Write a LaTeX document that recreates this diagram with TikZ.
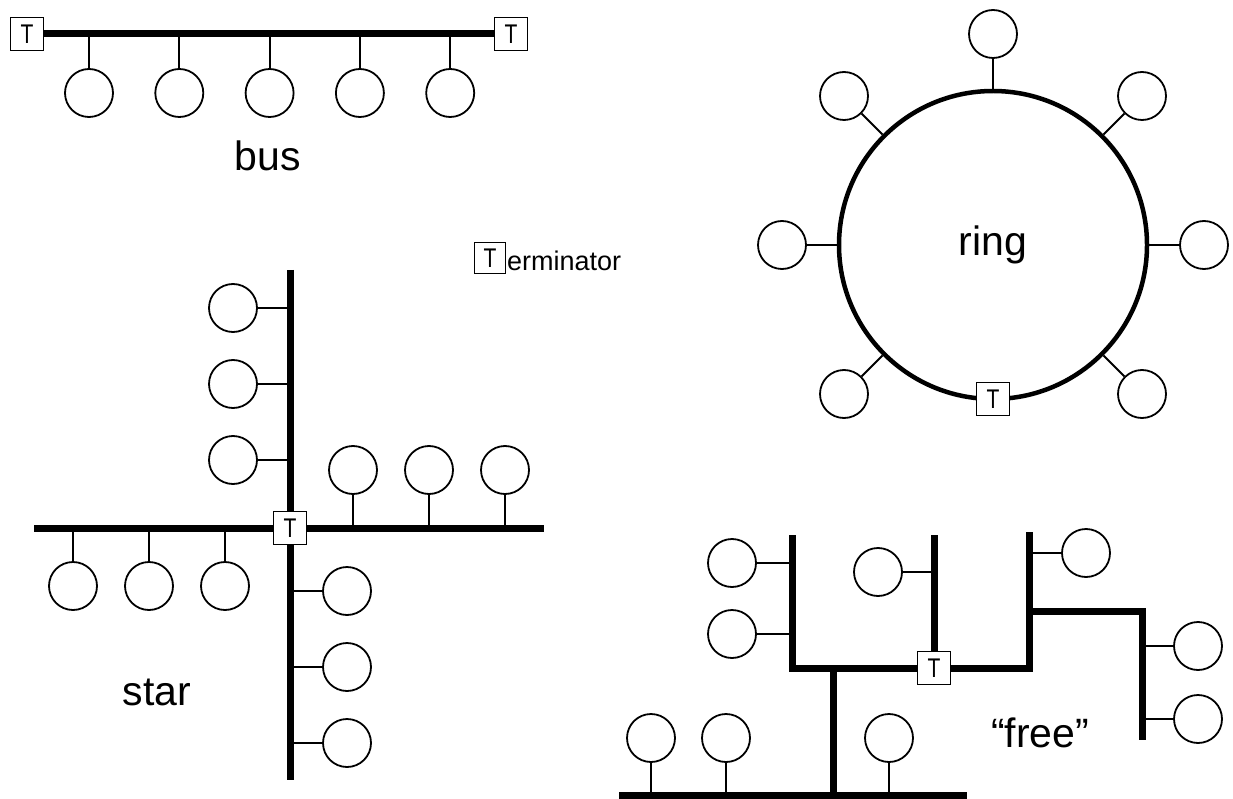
\documentclass[tikz,border=0pt]{standalone}
\usepackage{fontspec}
\setmainfont{Liberation Sans}
\newfontfamily\narrowfont[FakeStretch=0.78]{Liberation Sans}
\begin{document}
\begin{tikzpicture}[x=1pt,y=-1pt,
  station/.style={circle, draw, line width=1.8pt, minimum size=48pt, inner sep=0pt},
  term/.style={rectangle, draw, line width=1.8pt, fill=white, minimum size=33pt, inner sep=0pt, text height=19pt, text depth=0pt, font=\narrowfont\fontsize{27}{30}\selectfont},
  trunk/.style={line width=7pt, line join=miter},
  stub/.style={line width=1.8pt},
  lbl/.style={font=\fontsize{41}{49}\selectfont, inner sep=0pt},
  ringline/.style={circle, draw, line width=4.5pt, minimum size=308pt, inner sep=0pt, font=\fontsize{41}{49}\selectfont}]
\fill[white] (0,0) rectangle (1233,799);
\useasboundingbox (0,0) rectangle (1233,799);

% ---------------- bus ----------------
\node[term] (bt1) at (27,34) {T};
\node[term] (bt2) at (511,34) {T};
\draw[trunk] (bt1) -- (bt2);
\foreach \i/\x in {1/89,2/179.3,3/269.6,4/359.9,5/450.2}{
  \coordinate (bj\i) at (\x,34);
  \node[station] (bc\i) at (\x,93) {};
  \draw[stub] (bj\i) -- (bc\i);
}
\node[lbl] (buslbl) at (268,156) {bus};

% ---------------- legend ----------------
\node[term, minimum size=31pt] (legT) at (490,258) {T};
\node[anchor=west, inner sep=0pt, font=\fontsize{27}{32}\selectfont] (legtxt) at (507,261) {erminator};

% ---------------- ring ----------------
\node[ringline] (ring) at (993,245) {ring};
\node[station] (r90) at (993,34) {};
\node[station] (r45) at (1142,96) {};
\node[station] (r135) at (844,96) {};
\node[station] (r0) at (1204,245) {};
\node[station] (r180) at (782,245) {};
\node[station] (r225) at (844,394) {};
\node[station] (r315) at (1142,394) {};
\foreach \a in {90,45,135,0,180,225,315}{
  \draw[stub] (ring.\a) -- (r\a);
}
\node[term] (rt) at (993,399) {T};

% ---------------- star ----------------
\coordinate (sTop) at (290,270);
\coordinate (sBot) at (290,780);
\coordinate (sL) at (34,528);
\coordinate (sR) at (544,528);
\draw[trunk] (sTop) -- (sBot);
\draw[trunk] (sL) -- (sR);
\foreach \i/\y in {1/308,2/384,3/460}{
  \coordinate (suj\i) at (290,\y);
  \node[station] (su\i) at (233,\y) {};
  \draw[stub] (suj\i) -- (su\i);
}
\foreach \i/\y in {1/591,2/667,3/743}{
  \coordinate (sdj\i) at (290,\y);
  \node[station] (sd\i) at (347,\y) {};
  \draw[stub] (sdj\i) -- (sd\i);
}
\foreach \i/\x in {1/353,2/429,3/505}{
  \coordinate (srj\i) at (\x,528);
  \node[station] (sr\i) at (\x,470) {};
  \draw[stub] (srj\i) -- (sr\i);
}
\foreach \i/\x in {1/73,2/149,3/225}{
  \coordinate (slj\i) at (\x,528);
  \node[station] (sl\i) at (\x,586) {};
  \draw[stub] (slj\i) -- (sl\i);
}
\node[term] (st) at (290,528) {T};
\node[lbl] (starlbl) at (157,692) {star};

% ---------------- free ----------------
\coordinate (f1) at (792,535);
\coordinate (f2) at (792,668);
\coordinate (f3) at (1029,668);
\coordinate (f4) at (1029,532);
\coordinate (fm1) at (934,535);
\coordinate (fm2) at (934,668);
\coordinate (fs1) at (1029,611);
\coordinate (fs2) at (1142,611);
\coordinate (fs3) at (1142,740);
\coordinate (fd1) at (833,668);
\coordinate (fd2) at (833,795);
\coordinate (fb1) at (619,795);
\coordinate (fb2) at (967,795);
\draw[trunk] (f1) -- (f2) -- (f3) -- (f4);
\draw[trunk] (fm1) -- (fm2);
\draw[trunk] (fs1) -- (fs2) -- (fs3);
\draw[trunk] (fd1) -- (fd2);
\draw[trunk] (fb1) -- (fb2);
\foreach \i/\y in {1/563,2/634}{
  \coordinate (flj\i) at (792,\y);
  \node[station] (fl\i) at (732,\y) {};
  \draw[stub] (flj\i) -- (fl\i);
}
\coordinate (fmj) at (934,572);
\node[station] (fmc) at (878,572) {};
\draw[stub] (fmj) -- (fmc);
\coordinate (frj1) at (1029,553);
\node[station] (fr1) at (1086,553) {};
\draw[stub] (frj1) -- (fr1);
\foreach \i/\y in {2/646,3/719}{
  \coordinate (frj\i) at (1142,\y);
  \node[station] (fr\i) at (1198,\y) {};
  \draw[stub] (frj\i) -- (fr\i);
}
\foreach \i/\x in {1/651,2/726,3/889}{
  \coordinate (fbj\i) at (\x,795);
  \node[station] (fbc\i) at (\x,738) {};
  \draw[stub] (fbj\i) -- (fbc\i);
}
\node[term] (ft) at (934,668) {T};
\node[lbl] (freelbl) at (1040,733) {“free”};
\end{tikzpicture}
\end{document}
